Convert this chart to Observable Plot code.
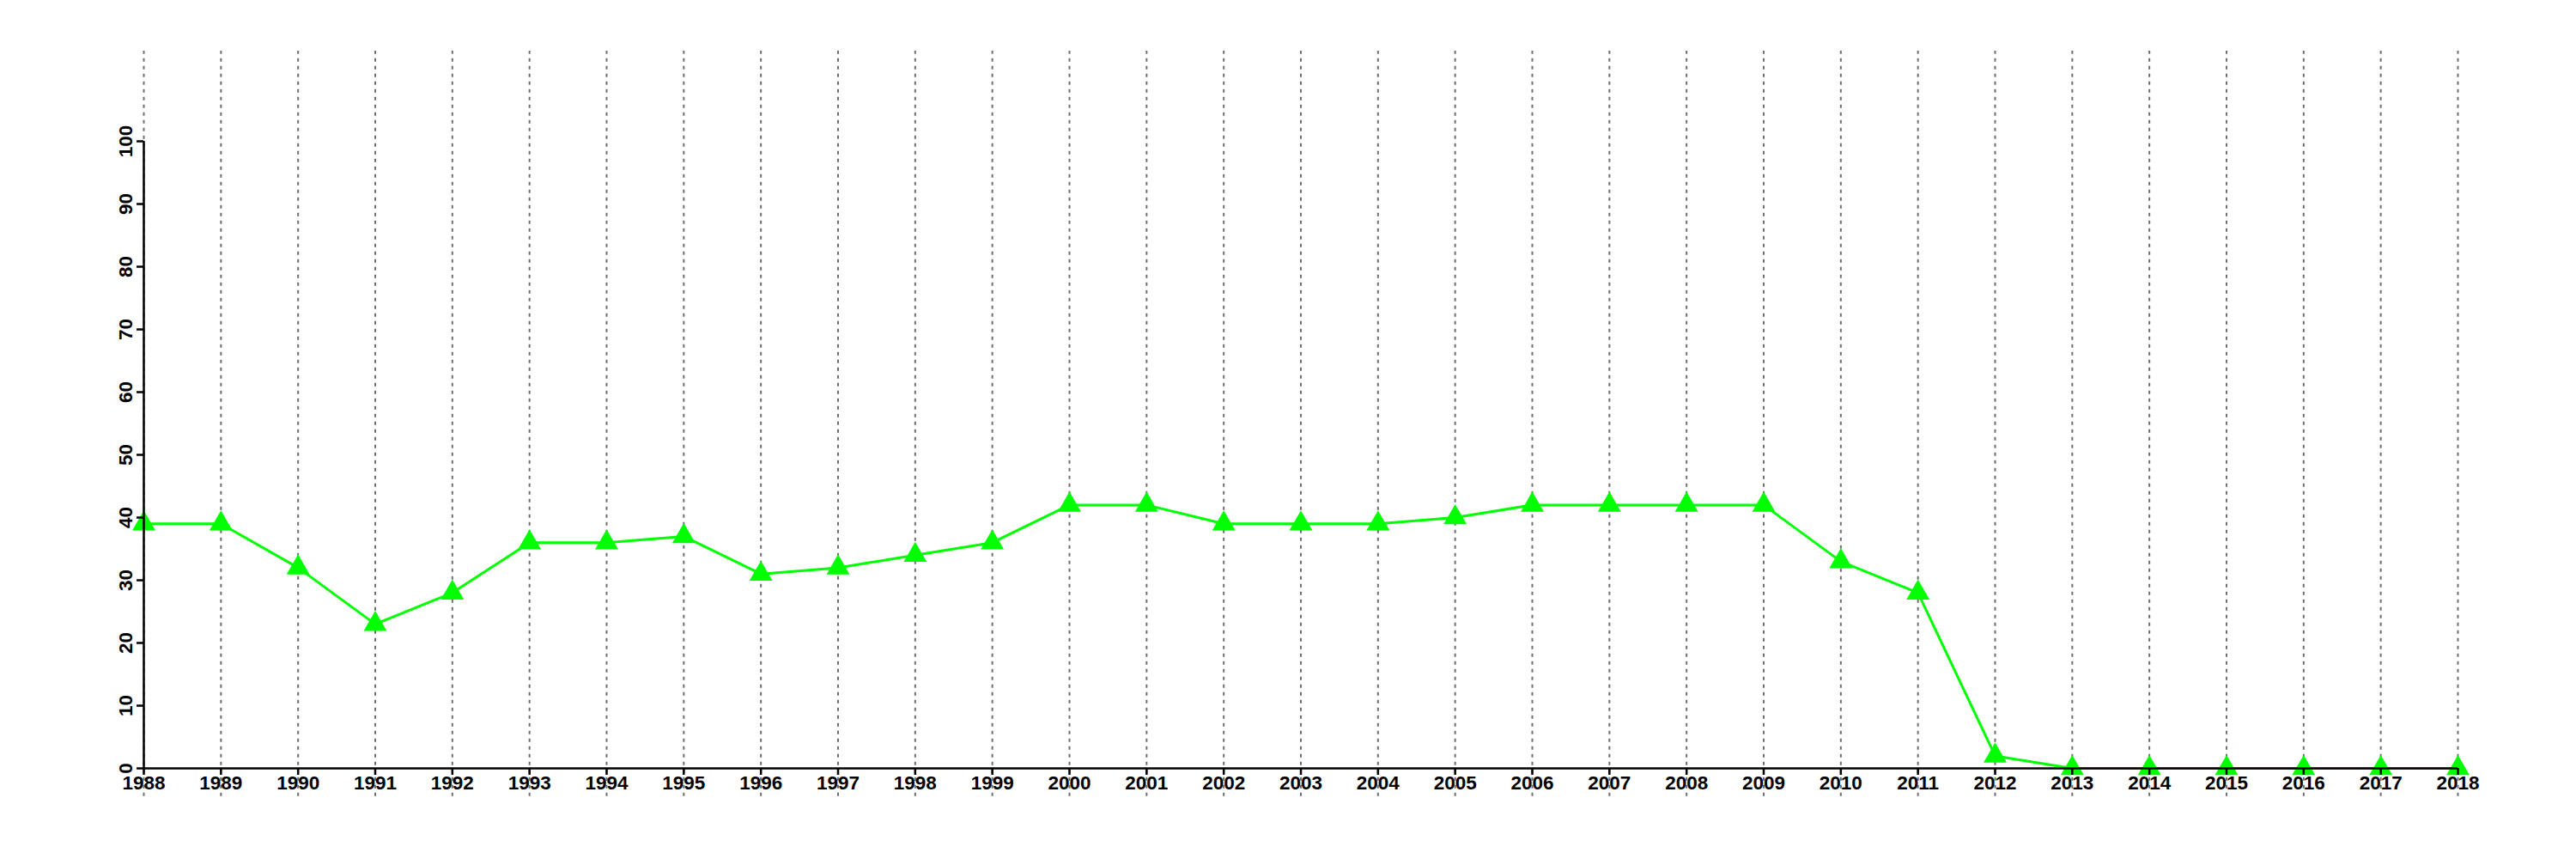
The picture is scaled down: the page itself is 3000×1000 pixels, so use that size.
<!DOCTYPE html>
<html>
<head>
<meta charset="utf-8">
<script src="https://cdn.jsdelivr.net/npm/d3@7"></script>
<script src="https://cdn.jsdelivr.net/npm/@observablehq/plot@0.6"></script>
<style>
  html, body { margin: 0; padding: 0; background: #ffffff; }
  #chart { width: 3000px; height: 1000px; }
</style>
</head>
<body>
<div id="chart"></div>
<script>
const years = [1988, 1989, 1990, 1991, 1992, 1993, 1994, 1995, 1996, 1997,
               1998, 1999, 2000, 2001, 2002, 2003, 2004, 2005, 2006, 2007,
               2008, 2009, 2010, 2011, 2012, 2013, 2014, 2015, 2016, 2017, 2018];
const values = [39, 39, 32, 23, 28, 36, 36, 37, 31, 32,
                34, 36, 42, 42, 39, 39, 39, 40, 42, 42,
                42, 42, 33, 28, 2, 0, 0, 0, 0, 0, 0];
const yTicks = [0, 10, 20, 30, 40, 50, 60, 70, 80, 90, 100];
const xTicks = years;

const xDomain = [years[0], years[years.length - 1]];
const yDomain = [0, 100];
// vertical extent of the dotted year guides (beyond the value axis)
const guideLow = -4.5;
const guideHigh = 114.4;

const data = years.map((year, i) => ({year, value: values[i]}));

const chart = Plot.plot({
  width: 3000,
  height: 1000,
  marginLeft: 167,
  marginRight: 138,
  marginTop: 164,
  marginBottom: 106,
  x: {domain: xDomain},
  y: {domain: yDomain},
  style: {
    fontFamily: "'Liberation Sans', Arial, Helvetica, sans-serif",
    fontWeight: "bold",
    fontSize: "22.5px",
    background: "#ffffff",
    overflow: "visible"
  },
  marks: [
    Plot.ruleX(xTicks, {y1: guideLow, y2: guideHigh, stroke: "#6e6e6e", strokeWidth: 2, strokeDasharray: "4,5"}),
    Plot.line(data, {x: "year", y: "value", stroke: "#00ff00", strokeWidth: 3}),
    Plot.dot(data, {x: "year", y: "value", symbol: "triangle", r: 10, fill: "#00ff00", stroke: "none"}),
    Plot.ruleY([yDomain[0]], {x1: xDomain[0], x2: xDomain[1], stroke: "#000000", strokeWidth: 2.5}),
    Plot.ruleX([xDomain[0]], {y1: yDomain[0], y2: yDomain[1], stroke: "#000000", strokeWidth: 2.5}),
    Plot.axisX({ticks: xTicks, tickFormat: d => String(d), tickSize: 8, tickPadding: 1, stroke: "#000000", strokeWidth: 2.5, fill: "#000000", label: null}),
    Plot.axisY({ticks: yTicks, tickFormat: d => String(d), tickSize: 8, tickPadding: 6, tickRotate: -90, stroke: "#000000", strokeWidth: 2.5, fill: "#000000", label: null})
  ]
});
document.getElementById("chart").appendChild(chart);
</script>
</body>
</html>
